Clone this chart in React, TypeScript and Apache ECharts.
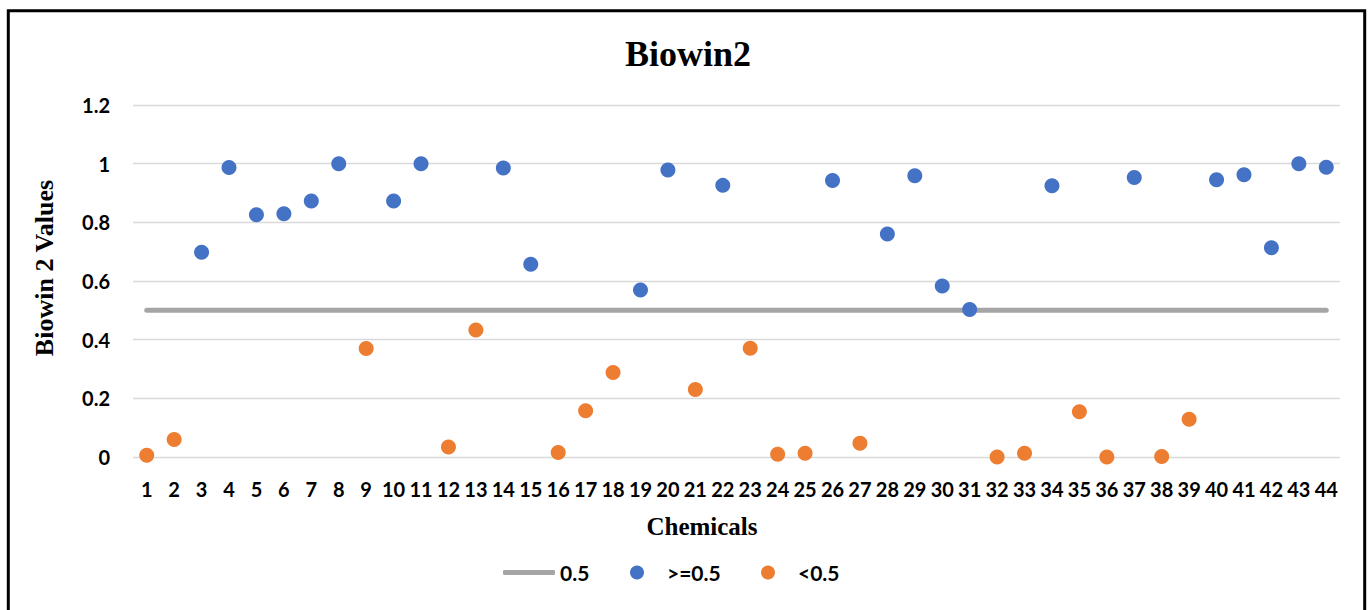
import React, { useEffect, useRef } from "react";
import * as echarts from "echarts";

// Chemical index labels along the x axis
const chemicals: string[] = [
  "1", "2", "3", "4", "5", "6", "7", "8", "9", "10", "11",
  "12", "13", "14", "15", "16", "17", "18", "19", "20", "21", "22",
  "23", "24", "25", "26", "27", "28", "29", "30", "31", "32", "33",
  "34", "35", "36", "37", "38", "39", "40", "41", "42", "43", "44",
];

// Biowin 2 value for each chemical
const biowin2Values: number[] = [
  0.006, 0.06, 0.698, 0.987, 0.826, 0.829, 0.873, 1.0, 0.37, 0.873, 1.0,
  0.034, 0.433, 0.985, 0.657, 0.015, 0.158, 0.288, 0.569, 0.978, 0.23, 0.926,
  0.371, 0.009, 0.013, 0.943, 0.047, 0.76, 0.959, 0.583, 0.503, 0.0, 0.013,
  0.925, 0.154, 0.0, 0.953, 0.002, 0.129, 0.945, 0.962, 0.713, 1.0, 0.988,
];

// Cut-off value drawn as the reference line
const threshold = 0.5;

// Y axis ticks
const yTicks = { min: 0, max: 1.2, interval: 0.2 };

const BLUE = "#4472C4";
const ORANGE = "#ED7D31";
const GREY = "#A5A5A5";
const GRID = "#D9D9D9";
const SANS = "Lato, 'Open Sans', sans-serif";
const SERIF = "'Liberation Serif', 'Times New Roman', serif";

export default function App() {
  const ref = useRef<HTMLDivElement>(null);

  useEffect(() => {
    if (!ref.current) return;
    const chart = echarts.init(ref.current, undefined, { renderer: "svg" });

    const thresholdLine = chemicals.map(() => threshold);
    const highPoints = biowin2Values.map((v) => (v >= threshold ? v : "-"));
    const lowPoints = biowin2Values.map((v) => (v < threshold ? v : "-"));

    const legendText = {
      fontFamily: SANS,
      fontWeight: "bold" as const,
      fontSize: 21,
      color: "#000",
    };

    chart.setOption({
      animation: false,
      backgroundColor: "#fff",
      grid: { left: 133, right: 29, top: 105, bottom: 153, containLabel: false },
      xAxis: {
        type: "category",
        data: chemicals,
        boundaryGap: true,
        axisLine: { show: false },
        axisTick: { show: false },
        axisLabel: {
          interval: 0,
          margin: 22,
          fontFamily: SANS,
          fontWeight: "bold",
          fontSize: 20,
          color: "#000",
        },
        splitLine: { show: false },
      },
      yAxis: {
        type: "value",
        min: yTicks.min,
        max: yTicks.max,
        interval: yTicks.interval,
        axisLine: { show: false },
        axisTick: { show: false },
        axisLabel: {
          margin: 23,
          fontFamily: SANS,
          fontWeight: "bold",
          fontSize: 20,
          color: "#000",
          formatter: (v: number) => String(+v.toFixed(1)),
        },
        splitLine: { lineStyle: { color: GRID, width: 1.3 } },
      },
      legend: [
        {
          data: [{ name: "0.5", icon: "roundRect" }],
          left: 503,
          top: 562,
          padding: 0,
          itemWidth: 52,
          itemHeight: 5,
          textStyle: legendText,
        },
        {
          data: [{ name: ">=0.5", icon: "circle" }],
          left: 630,
          top: 562,
          padding: 0,
          itemWidth: 14,
          itemHeight: 14,
          textStyle: { ...legendText, padding: [0, 0, 0, 18] },
        },
        {
          data: [{ name: "<0.5", icon: "circle" }],
          left: 761,
          top: 562,
          padding: 0,
          itemWidth: 14,
          itemHeight: 14,
          textStyle: { ...legendText, padding: [0, 0, 0, 18] },
        },
      ],
      series: [
        {
          name: "0.5",
          type: "line",
          data: thresholdLine,
          symbol: "none",
          lineStyle: { color: GREY, width: 5, cap: "round" },
          itemStyle: { color: GREY },
          z: 1,
        },
        {
          name: ">=0.5",
          type: "scatter",
          data: highPoints,
          symbol: "circle",
          symbolSize: 15,
          itemStyle: { color: BLUE, opacity: 1 },
          z: 3,
        },
        {
          name: "<0.5",
          type: "scatter",
          data: lowPoints,
          symbol: "circle",
          symbolSize: 15,
          itemStyle: { color: ORANGE, opacity: 1 },
          z: 3,
        },
      ],
      graphic: [
        {
          type: "rect",
          shape: { x: 8.3, y: 10.7, width: 1356.4, height: 640 },
          style: { fill: "none", stroke: "#000", lineWidth: 3 },
          silent: true,
        },
        {
          type: "text",
          x: 688,
          y: 53.5,
          style: {
            text: "Biowin2",
            fontFamily: SERIF,
            fontWeight: "bold",
            fontSize: 36,
            fill: "#000",
            textAlign: "center",
            textVerticalAlign: "middle",
          },
        },
        {
          type: "text",
          x: 702,
          y: 526,
          style: {
            text: "Chemicals",
            fontFamily: SERIF,
            fontWeight: "bold",
            fontSize: 25,
            fill: "#000",
            textAlign: "center",
            textVerticalAlign: "middle",
          },
        },
        {
          type: "text",
          x: 44,
          y: 268,
          rotation: Math.PI / 2,
          style: {
            text: "Biowin 2 Values",
            fontFamily: SERIF,
            fontWeight: "bold",
            fontSize: 26,
            fill: "#000",
            textAlign: "center",
            textVerticalAlign: "middle",
          },
        },
      ],
    });

    return () => chart.dispose();
  }, []);

  return (
    <div
      ref={ref}
      style={{ position: "fixed", left: 0, top: 0, width: 1369, height: 610, background: "#fff" }}
    />
  );
}
